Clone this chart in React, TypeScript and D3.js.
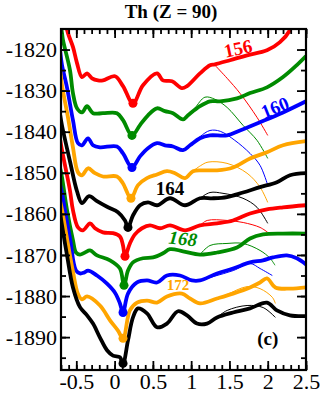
import React, { useEffect, useRef } from 'react';
import * as d3 from 'd3';

// Th (Z = 90), energy curves for N = 156..174 (thick) with thin branches
const nuclei = [156, 158, 160, 162, 164, 166, 168, 170, 172, 174];
const palette = ['#ff0000', '#008b00', '#0000ff', '#ffa500', '#000000'];

const c156 = [[-0.66, -1812], [-0.609, -1816], [-0.543, -1819.4], [-0.491, -1823.3], [-0.426, -1826.7], [-0.36, -1825.8], [-0.295, -1827], [-0.217, -1827.5], [-0.152, -1827.5], [0.005, -1826.5], [0.11, -1828.9], [0.24, -1833.1], [0.371, -1828.7], [0.554, -1825.8], [0.632, -1827.5], [0.75, -1827.7], [0.88, -1829.4], [0.946, -1828.9], [1.115, -1825.8], [1.246, -1823.8], [1.31, -1823.6], [1.507, -1822.6], [1.73, -1821.4], [1.99, -1820.2], [2.16, -1818.2], [2.29, -1815.3], [2.33, -1813]];
const c158 = [[-0.71, -1813], [-0.687, -1816], [-0.674, -1817.7], [-0.583, -1825], [-0.544, -1830.6], [-0.491, -1834.3], [-0.426, -1835.3], [-0.36, -1833.8], [-0.282, -1835.5], [-0.152, -1835.5], [0.031, -1835.5], [0.11, -1837.2], [0.227, -1840.9], [0.332, -1838.4], [0.436, -1836], [0.554, -1834.3], [0.658, -1835], [0.763, -1835.5], [0.893, -1837], [0.959, -1836], [1.115, -1833.8], [1.246, -1832.6], [1.377, -1832.6], [1.599, -1831.9], [1.769, -1830.6], [1.99, -1829.2], [2.2, -1826.7], [2.38, -1823.8], [2.5, -1821.6]];
const c160 = [[-0.71, -1820.5], [-0.687, -1823.8], [-0.622, -1829.2], [-0.544, -1837.2], [-0.478, -1842.8], [-0.426, -1843.3], [-0.347, -1841.6], [-0.282, -1843.3], [-0.191, -1843.8], [0.031, -1843.6], [0.11, -1845.3], [0.227, -1848.7], [0.332, -1846], [0.436, -1844], [0.554, -1842.8], [0.658, -1843.3], [0.763, -1843.6], [0.893, -1844.5], [0.985, -1843.3], [1.115, -1841.6], [1.246, -1840.9], [1.468, -1840.9], [1.638, -1839.7], [1.899, -1837.7], [2.2, -1835.3], [2.5, -1832.6]];
const c162 = [[-0.71, -1825], [-0.687, -1828.7], [-0.609, -1836.5], [-0.544, -1843.8], [-0.478, -1849.9], [-0.426, -1850.6], [-0.347, -1848.9], [-0.256, -1850.1], [-0.152, -1850.9], [0.031, -1850.9], [0.11, -1852.6], [0.214, -1856.2], [0.306, -1853], [0.423, -1851.3], [0.554, -1850.4], [0.684, -1849.6], [0.789, -1850.1], [0.92, -1851.3], [1.024, -1849.6], [1.155, -1849.4], [1.338, -1849.4], [1.547, -1848.7], [1.769, -1846.5], [1.99, -1845], [2.2, -1843.3], [2.5, -1842.3]];
const c164 = [[-0.71, -1836], [-0.687, -1838.5], [-0.583, -1847.2], [-0.491, -1854.5], [-0.426, -1857.4], [-0.334, -1855.7], [-0.23, -1856.9], [-0.086, -1858.4], [0.044, -1859.6], [0.136, -1861.6], [0.175, -1863.3], [0.24, -1860.4], [0.332, -1857.9], [0.436, -1857.2], [0.554, -1857.9], [0.724, -1856.2], [0.92, -1857.9], [1.115, -1856.2], [1.285, -1856.2], [1.468, -1855.9], [1.677, -1854.8], [1.899, -1853.5], [2.12, -1852.3], [2.29, -1850.6], [2.5, -1850.1]];
const c166 = [[-0.71, -1842], [-0.687, -1844.5], [-0.583, -1854.3], [-0.544, -1859.1], [-0.478, -1863.3], [-0.413, -1864], [-0.321, -1862.3], [-0.256, -1863.5], [-0.152, -1864.5], [-0.021, -1864.7], [0.07, -1865.5], [0.11, -1867.7], [0.136, -1870.3], [0.2, -1867.2], [0.266, -1865], [0.358, -1863.5], [0.462, -1862.8], [0.593, -1863.5], [0.724, -1862.8], [0.92, -1864], [1.115, -1862.8], [1.338, -1862.3], [1.547, -1861.6], [1.769, -1859.9], [1.99, -1858.9], [2.2, -1858.4], [2.5, -1857.9]];
const c168 = [[-0.71, -1849], [-0.687, -1851.1], [-0.622, -1859], [-0.544, -1866.4], [-0.504, -1869.4], [-0.452, -1869.9], [-0.387, -1869.4], [-0.321, -1868.9], [-0.23, -1870.1], [-0.06, -1871.3], [0.07, -1873.3], [0.123, -1877.4], [0.175, -1873.8], [0.24, -1871.8], [0.371, -1870.8], [0.502, -1870.6], [0.632, -1869.6], [0.724, -1868.6], [0.893, -1869.1], [1.115, -1869.9], [1.338, -1869.4], [1.599, -1868.2], [1.769, -1866], [1.939, -1865], [2.2, -1864.8], [2.5, -1864.8]];
const c170 = [[-0.71, -1853], [-0.687, -1855], [-0.583, -1866], [-0.504, -1873.8], [-0.452, -1874.5], [-0.4, -1874.3], [-0.347, -1873.8], [-0.23, -1875], [-0.099, -1877], [0.005, -1879.2], [0.07, -1881.8], [0.11, -1884], [0.175, -1879.4], [0.293, -1876.7], [0.423, -1876.2], [0.554, -1876.7], [0.684, -1875], [0.854, -1875], [1.01, -1876.2], [1.115, -1876.2], [1.338, -1874.5], [1.547, -1873.3], [1.769, -1871.8], [1.939, -1871.3], [2.07, -1870.6], [2.25, -1870.1], [2.38, -1870.8], [2.5, -1872.3]];
const c172 = [[-0.71, -1857], [-0.687, -1859], [-0.622, -1866], [-0.544, -1874], [-0.478, -1879.5], [-0.426, -1880.8], [-0.36, -1880.1], [-0.191, -1882.3], [-0.06, -1885.9], [0.044, -1888.4], [0.11, -1890.3], [0.2, -1883.5], [0.293, -1881.6], [0.423, -1881.1], [0.554, -1881.6], [0.684, -1880.1], [0.88, -1879.4], [0.985, -1880.6], [1.115, -1881.8], [1.338, -1880.6], [1.547, -1879.4], [1.769, -1877.9], [1.9, -1876.7], [1.99, -1875.7], [2.1, -1877.9], [2.29, -1878.2], [2.5, -1877.9]];
const c174 = [[-0.71, -1860], [-0.687, -1862.8], [-0.622, -1870], [-0.544, -1877.9], [-0.452, -1882.7], [-0.36, -1884.7], [-0.282, -1886.7], [-0.191, -1890.1], [-0.099, -1893.2], [-0.021, -1894.5], [0.07, -1894.9], [0.11, -1896.4], [0.175, -1890.8], [0.24, -1885.2], [0.306, -1883], [0.423, -1884.2], [0.554, -1887.6], [0.684, -1886.7], [0.828, -1883.7], [0.946, -1884.7], [1.076, -1886.7], [1.207, -1886.7], [1.338, -1885.2], [1.547, -1884], [1.769, -1883], [1.99, -1881.6], [2.12, -1883.5], [2.29, -1884.7], [2.5, -1884.9]];

// thin branches
const t156 = [[1.31, -1823.8], [1.47, -1827], [1.64, -1830.7], [1.86, -1836.5], [2.0, -1840.9]];
const t158 = [[0.959, -1836], [1.05, -1834.2], [1.18, -1831.6], [1.31, -1832.1], [1.47, -1834.1], [1.68, -1838.5], [1.86, -1842.1], [2.0, -1846.5]];
const t160 = [[0.985, -1843.3], [1.115, -1841.2], [1.246, -1839.7], [1.38, -1839.9], [1.57, -1842.1], [1.77, -1845.3], [1.9, -1848.2], [2.0, -1853]];
const t162 = [[1.024, -1849.6], [1.12, -1848.3], [1.22, -1847.4], [1.468, -1847.7], [1.73, -1850.1], [1.9, -1853.5], [2.0, -1857.2]];
const t164 = [[1.115, -1856.2], [1.246, -1854.8], [1.416, -1855], [1.677, -1856.2], [1.86, -1858.4], [2.0, -1862.3]];
const t166 = [[1.115, -1862.8], [1.21, -1861.6], [1.47, -1861.6], [1.68, -1862.1], [1.9, -1863.3], [2.0, -1864.5]];
const t168 = [[1.115, -1869.9], [1.246, -1867.7], [1.468, -1867.2], [1.677, -1867.2], [1.9, -1868.9], [2.03, -1870.8], [2.095, -1872.5]];
const t170 = [[1.115, -1876.2], [1.3, -1875.2], [1.55, -1873.8], [1.77, -1872.1], [1.9, -1873.3], [2.06, -1875]];
const t172 = [[1.338, -1880.6], [1.47, -1879.6], [1.73, -1877.7], [1.9, -1878.2], [2.06, -1880.3], [2.1, -1881.8]];
const t174 = [[1.338, -1885.2], [1.47, -1883.5], [1.73, -1882.3], [1.94, -1882.8], [2.1, -1885.2]];

const thickCurves = [c156, c158, c160, c162, c164, c166, c168, c170, c172, c174];
const thinCurves = [t156, t158, t160, t162, t164, t166, t168, t170, t172, t174];

// minima (dots)
const minX = [0.24, 0.227, 0.227, 0.214, 0.175, 0.136, 0.123, 0.11, 0.11, 0.11];
const minY = [-1833.1, -1840.9, -1848.7, -1856.2, -1863.3, -1870.3, -1877.4, -1884, -1890.3, -1896.4];

// curve labels
const labelText = ['156', '160', '164', '168', '172'];
const labelX = [1.612, 2.095, 0.724, 0.893, 0.828];
const labelY = [-1819.7, -1834.1, -1853.8, -1866.0, -1877.4];
const labelRot = [-12, -22, 0, 6, 0];
const labelColor = ['#ff0000', '#0000ff', '#000000', '#008b00', '#ffa500'];

const xMajor = [-0.5, 0, 0.5, 1, 1.5, 2, 2.5];
const yMajor = [-1890, -1880, -1870, -1860, -1850, -1840, -1830, -1820];

const FONT = "'Liberation Serif', 'DejaVu Serif', 'Times New Roman', serif";

const App = () => {
  const svgRef = useRef(null);

  useEffect(() => {
    const W = 322;
    const H = 394;
    const margin = { top: 29, right: 16, bottom: 24, left: 61 };
    const width = W - margin.left - margin.right;
    const height = H - margin.top - margin.bottom;

    const root = d3.select(svgRef.current);
    root.selectAll('*').remove();
    root.attr('width', W).attr('height', H).attr('font-family', FONT);

    const svg = root.append('g').attr('transform', `translate(${margin.left},${margin.top})`);

    const x = d3.scaleLinear().domain([-0.7, 2.5]).range([0, width]);
    const y = d3.scaleLinear().domain([-1898, -1815]).range([height, 0]);

    root
      .append('defs')
      .append('clipPath')
      .attr('id', 'plot-clip')
      .append('rect')
      .attr('width', width)
      .attr('height', height);

    const line = d3
      .line()
      .x((d) => x(d[0]))
      .y((d) => y(d[1]))
      .curve(d3.curveCatmullRom.alpha(0.5));

    const plot = svg.append('g').attr('clip-path', 'url(#plot-clip)');

    // thin branches under thick curves
    thinCurves.forEach((pts, i) => {
      plot
        .append('path')
        .attr('d', line(pts))
        .attr('fill', 'none')
        .attr('stroke', palette[i % 5])
        .attr('stroke-width', 1);
    });

    thickCurves.forEach((pts, i) => {
      plot
        .append('path')
        .attr('d', line(pts))
        .attr('fill', 'none')
        .attr('stroke', palette[i % 5])
        .attr('stroke-width', 3.8)
        .attr('stroke-linejoin', 'round');
    });

    plot
      .selectAll('.min-dot')
      .data(nuclei)
      .enter()
      .append('circle')
      .attr('class', 'min-dot')
      .attr('cx', (d, i) => x(minX[i]))
      .attr('cy', (d, i) => y(minY[i]))
      .attr('r', 4.5)
      .attr('fill', (d, i) => palette[i % 5]);

    // axes: major + minor ticks on all four sides, pointing inwards
    const xMinor = d3.range(-0.7, 2.501, 0.1).map((v) => Math.round(v * 10) / 10);
    const yMinor = d3.range(-1895, -1815, 5);

    const styleAxis = (g) => {
      g.attr('font-family', FONT).attr('font-size', 22);
      g.select('.domain').remove();
      g.selectAll('line').attr('stroke', 'black').attr('stroke-width', 1.8);
      g.selectAll('text').attr('fill', 'black');
    };

    svg.append('g').attr('transform', `translate(0,${height})`)
      .call(d3.axisBottom(x).tickValues(xMinor).tickSize(-5).tickFormat(() => '')).call(styleAxis);
    svg.append('g').attr('transform', `translate(0,${height})`)
      .call(d3.axisBottom(x).tickValues(xMajor).tickSize(-9).tickPadding(3).tickFormat((d) => `${d}`))
      .call(styleAxis);
    svg.append('g')
      .call(d3.axisTop(x).tickValues(xMinor).tickSize(-5).tickFormat(() => '')).call(styleAxis);
    svg.append('g')
      .call(d3.axisTop(x).tickValues(xMajor).tickSize(-9).tickFormat(() => '')).call(styleAxis);

    svg.append('g')
      .call(d3.axisLeft(y).tickValues(yMinor).tickSize(-5).tickFormat(() => '')).call(styleAxis);
    svg.append('g')
      .call(d3.axisLeft(y).tickValues(yMajor).tickSize(-9).tickPadding(4).tickFormat((d) => `${d}`))
      .call(styleAxis);
    svg.append('g').attr('transform', `translate(${width},0)`)
      .call(d3.axisRight(y).tickValues(yMinor).tickSize(-5).tickFormat(() => '')).call(styleAxis);
    svg.append('g').attr('transform', `translate(${width},0)`)
      .call(d3.axisRight(y).tickValues(yMajor).tickSize(-9).tickFormat(() => '')).call(styleAxis);

    // frame
    svg
      .append('rect')
      .attr('width', width)
      .attr('height', height)
      .attr('fill', 'none')
      .attr('stroke', 'black')
      .attr('stroke-width', 2.2);

    // curve labels
    labelText.forEach((t, i) => {
      svg
        .append('text')
        .attr('transform', `translate(${x(labelX[i])},${y(labelY[i])}) rotate(${labelRot[i]})`)
        .attr('text-anchor', 'middle')
        .attr('dominant-baseline', 'central')
        .attr('font-weight', 'bold')
        .attr('font-style', i === 3 ? 'italic' : 'normal')
        .attr('font-size', i === 4 ? 15 : 19)
        .attr('fill', labelColor[i])
        .text(t);
    });

    svg
      .append('text')
      .attr('x', x(2.0))
      .attr('y', y(-1890.3))
      .attr('text-anchor', 'middle')
      .attr('dominant-baseline', 'central')
      .attr('font-weight', 'bold')
      .attr('font-size', 19)
      .text('(c)');

    // title
    root
      .append('text')
      .attr('x', 171)
      .attr('y', 18)
      .attr('text-anchor', 'middle')
      .attr('font-weight', 'bold')
      .attr('font-size', 19)
      .text('Th (Z = 90)');
  }, []);

  return (
    <svg
      ref={svgRef}
      style={{ position: 'absolute', left: 0, top: 0, display: 'block', backgroundColor: 'white' }}
    ></svg>
  );
};

export default App;
